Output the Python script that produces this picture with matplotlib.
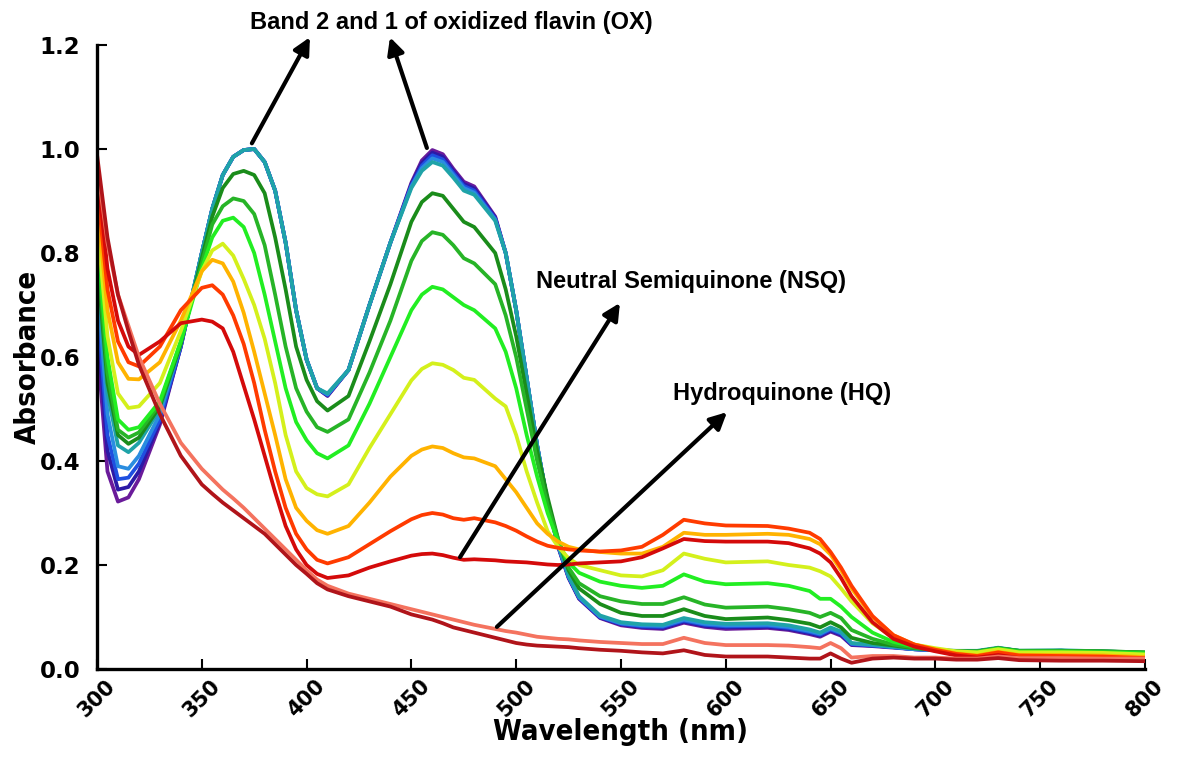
import matplotlib
matplotlib.use('Agg')
import matplotlib.pyplot as plt

# Wavelength grid (nm)
wl = [300, 305, 310, 315, 320, 330, 340, 350, 355, 360, 365, 370, 375, 380, 385,
      390, 395, 400, 405, 410, 420, 430, 440, 450, 455, 460, 465, 470, 475, 480, 490, 495,
      500, 505, 510, 515, 520, 525, 530, 540, 550, 560, 570, 580, 590, 600, 620,
      630, 640, 645, 650, 655, 660, 670, 680, 690, 700, 710, 720, 730, 740, 760,
      780, 800]

# Oxidized flavin group
a_purple = [0.63, 0.38, 0.322, 0.33, 0.365, 0.47, 0.62, 0.80, 0.885, 0.95, 0.985, 0.998, 1.0, 0.975, 0.92,
            0.82, 0.69, 0.595, 0.54, 0.525, 0.575, 0.70, 0.82, 0.935, 0.978, 0.998, 0.99, 0.962, 0.937, 0.928, 0.87, 0.80,
            0.69, 0.56, 0.43, 0.32, 0.235, 0.175, 0.135, 0.098, 0.084, 0.079, 0.077, 0.089, 0.081, 0.077, 0.079,
            0.075, 0.067, 0.062, 0.072, 0.064, 0.046, 0.044, 0.041, 0.038, 0.036, 0.034, 0.034, 0.038, 0.034, 0.035,
            0.033, 0.030]
a_indigo = [0.67, 0.42, 0.345, 0.35, 0.38, 0.475, 0.62, 0.80, 0.885, 0.95, 0.985, 0.998, 1.0, 0.975, 0.92,
            0.82, 0.69, 0.595, 0.54, 0.526, 0.575, 0.70, 0.82, 0.932, 0.973, 0.993, 0.985, 0.958, 0.933, 0.924, 0.868, 0.80,
            0.69, 0.56, 0.43, 0.32, 0.236, 0.176, 0.136, 0.099, 0.086, 0.081, 0.079, 0.091, 0.083, 0.080, 0.081,
            0.077, 0.069, 0.064, 0.074, 0.066, 0.047, 0.045, 0.042, 0.038, 0.036, 0.034, 0.034, 0.039, 0.034, 0.035,
            0.033, 0.030]
a_blue = [0.71, 0.45, 0.365, 0.368, 0.395, 0.48, 0.62, 0.80, 0.885, 0.95, 0.985, 0.998, 1.0, 0.975, 0.92,
          0.82, 0.69, 0.595, 0.54, 0.527, 0.575, 0.70, 0.82, 0.930, 0.968, 0.988, 0.980, 0.954, 0.929, 0.920, 0.866, 0.80,
          0.69, 0.56, 0.43, 0.32, 0.237, 0.177, 0.137, 0.100, 0.087, 0.082, 0.081, 0.093, 0.085, 0.082, 0.083,
          0.079, 0.071, 0.066, 0.076, 0.068, 0.048, 0.045, 0.042, 0.038, 0.036, 0.034, 0.034, 0.039, 0.034, 0.035,
          0.033, 0.030]
a_skyblue = [0.75, 0.49, 0.39, 0.385, 0.41, 0.49, 0.625, 0.80, 0.885, 0.95, 0.985, 0.998, 1.0, 0.975, 0.92,
             0.82, 0.69, 0.595, 0.54, 0.528, 0.575, 0.70, 0.82, 0.928, 0.963, 0.982, 0.975, 0.950, 0.925, 0.916, 0.864, 0.80,
             0.69, 0.56, 0.43, 0.32, 0.238, 0.178, 0.138, 0.101, 0.088, 0.084, 0.083, 0.095, 0.087, 0.084, 0.085,
             0.081, 0.073, 0.068, 0.078, 0.070, 0.049, 0.046, 0.042, 0.038, 0.036, 0.034, 0.034, 0.040, 0.035, 0.035,
             0.034, 0.031]
a_teal = [0.78, 0.53, 0.43, 0.417, 0.435, 0.50, 0.625, 0.80, 0.885, 0.95, 0.985, 0.998, 1.0, 0.975, 0.92,
          0.82, 0.69, 0.595, 0.54, 0.530, 0.575, 0.70, 0.82, 0.925, 0.958, 0.975, 0.968, 0.945, 0.920, 0.912, 0.862, 0.80,
          0.69, 0.56, 0.43, 0.32, 0.240, 0.180, 0.140, 0.103, 0.090, 0.086, 0.085, 0.098, 0.090, 0.087, 0.088,
          0.084, 0.076, 0.070, 0.080, 0.072, 0.050, 0.047, 0.043, 0.039, 0.037, 0.035, 0.035, 0.041, 0.035, 0.036,
          0.034, 0.031]

# Intermediate spectra (OX -> NSQ)
a_dkgreen = [0.79, 0.55, 0.45, 0.433, 0.445, 0.505, 0.625, 0.79, 0.87, 0.925, 0.952, 0.958, 0.95, 0.915, 0.83,
             0.73, 0.62, 0.556, 0.515, 0.497, 0.525, 0.63, 0.74, 0.86, 0.898, 0.915, 0.91, 0.885, 0.86, 0.85, 0.80, 0.73,
             0.64, 0.53, 0.42, 0.33, 0.25, 0.19, 0.155, 0.125, 0.108, 0.102, 0.102, 0.115, 0.102, 0.096, 0.099,
             0.094, 0.087, 0.080, 0.090, 0.080, 0.060, 0.050, 0.045, 0.040, 0.037, 0.034, 0.034, 0.040, 0.035, 0.035,
             0.034, 0.032]
a_green = [0.81, 0.57, 0.46, 0.445, 0.455, 0.51, 0.63, 0.78, 0.855, 0.89, 0.905, 0.90, 0.875, 0.815, 0.72,
           0.62, 0.54, 0.495, 0.465, 0.456, 0.48, 0.57, 0.67, 0.785, 0.823, 0.84, 0.835, 0.815, 0.79, 0.78, 0.74, 0.68,
           0.60, 0.50, 0.40, 0.315, 0.25, 0.195, 0.165, 0.14, 0.13, 0.125, 0.125, 0.138, 0.124, 0.118, 0.12,
           0.115, 0.108, 0.100, 0.108, 0.098, 0.075, 0.058, 0.047, 0.041, 0.037, 0.034, 0.034, 0.040, 0.035, 0.035,
           0.034, 0.032]
a_ltgreen = [0.83, 0.60, 0.48, 0.46, 0.465, 0.515, 0.63, 0.77, 0.83, 0.862, 0.868, 0.85, 0.80, 0.72, 0.63,
             0.54, 0.475, 0.44, 0.415, 0.405, 0.43, 0.51, 0.60, 0.69, 0.72, 0.735, 0.73, 0.715, 0.70, 0.69, 0.655, 0.61,
             0.54, 0.45, 0.37, 0.30, 0.245, 0.205, 0.185, 0.168, 0.16, 0.156, 0.16, 0.182, 0.168, 0.163, 0.165,
             0.16, 0.15, 0.135, 0.135, 0.12, 0.10, 0.07, 0.052, 0.043, 0.037, 0.033, 0.032, 0.039, 0.033, 0.033,
             0.032, 0.030]
a_yellow = [0.86, 0.64, 0.53, 0.502, 0.505, 0.55, 0.65, 0.765, 0.805, 0.818, 0.795, 0.75, 0.70, 0.635, 0.55,
            0.45, 0.38, 0.348, 0.336, 0.332, 0.355, 0.425, 0.49, 0.555, 0.577, 0.588, 0.585, 0.575, 0.56, 0.556, 0.52, 0.505,
            0.45, 0.38, 0.32, 0.265, 0.235, 0.213, 0.20, 0.19, 0.18, 0.178, 0.19, 0.222, 0.212, 0.205, 0.207,
            0.20, 0.195, 0.188, 0.178, 0.155, 0.13, 0.088, 0.06, 0.047, 0.04, 0.034, 0.032, 0.038, 0.032, 0.032,
            0.031, 0.028]
a_orange = [0.90, 0.69, 0.59, 0.558, 0.557, 0.59, 0.67, 0.765, 0.787, 0.78, 0.745, 0.685, 0.61, 0.53, 0.45,
            0.365, 0.31, 0.285, 0.267, 0.26, 0.275, 0.32, 0.37, 0.41, 0.422, 0.428, 0.425, 0.415, 0.407, 0.405, 0.39, 0.365,
            0.34, 0.31, 0.28, 0.26, 0.245, 0.235, 0.23, 0.225, 0.222, 0.222, 0.235, 0.262, 0.258, 0.258, 0.26,
            0.258, 0.25, 0.24, 0.22, 0.19, 0.155, 0.10, 0.065, 0.047, 0.038, 0.030, 0.026, 0.033, 0.027, 0.027,
            0.026, 0.023]
a_redorange = [0.93, 0.73, 0.63, 0.59, 0.582, 0.62, 0.69, 0.733, 0.738, 0.72, 0.68, 0.625, 0.55, 0.46, 0.38,
               0.31, 0.26, 0.23, 0.21, 0.203, 0.215, 0.24, 0.265, 0.288, 0.296, 0.30, 0.297, 0.29, 0.287, 0.29, 0.282, 0.275,
               0.266, 0.255, 0.245, 0.237, 0.233, 0.23, 0.228, 0.226, 0.228, 0.235, 0.258, 0.287, 0.28, 0.276, 0.275,
               0.27, 0.262, 0.25, 0.225, 0.195, 0.16, 0.102, 0.065, 0.047, 0.037, 0.029, 0.025, 0.032, 0.026, 0.025,
               0.024, 0.021]
a_red = [0.96, 0.77, 0.67, 0.62, 0.604, 0.63, 0.665, 0.672, 0.668, 0.655, 0.61, 0.545, 0.48, 0.41, 0.34,
         0.275, 0.23, 0.20, 0.183, 0.175, 0.18, 0.195, 0.207, 0.218, 0.221, 0.222, 0.219, 0.214, 0.21, 0.211, 0.209, 0.207,
         0.206, 0.205, 0.203, 0.201, 0.20, 0.201, 0.203, 0.205, 0.207, 0.215, 0.232, 0.25, 0.246, 0.245, 0.245,
         0.242, 0.232, 0.222, 0.205, 0.175, 0.14, 0.09, 0.058, 0.043, 0.034, 0.026, 0.022, 0.027, 0.021, 0.020,
         0.019, 0.017]

# Hydroquinone spectra
a_salmon = [0.97, 0.82, 0.72, 0.66, 0.60, 0.51, 0.435, 0.385, 0.365, 0.345, 0.328, 0.31, 0.29, 0.27, 0.25,
            0.23, 0.21, 0.19, 0.172, 0.16, 0.145, 0.135, 0.125, 0.115, 0.11, 0.105, 0.10, 0.095, 0.09, 0.085, 0.077, 0.073,
            0.07, 0.066, 0.062, 0.06, 0.058, 0.057, 0.055, 0.052, 0.05, 0.048, 0.048, 0.06, 0.05, 0.046, 0.046,
            0.045, 0.042, 0.04, 0.05, 0.04, 0.022, 0.025, 0.025, 0.022, 0.022, 0.02, 0.02, 0.024, 0.021, 0.021,
            0.02, 0.02]
a_dkred = [0.99, 0.83, 0.72, 0.65, 0.585, 0.49, 0.41, 0.355, 0.337, 0.32, 0.305, 0.29, 0.275, 0.26, 0.24,
           0.22, 0.2, 0.183, 0.165, 0.153, 0.14, 0.13, 0.12, 0.105, 0.10, 0.095, 0.088, 0.08, 0.075, 0.07, 0.06, 0.055,
           0.05, 0.047, 0.045, 0.044, 0.043, 0.042, 0.04, 0.037, 0.035, 0.032, 0.03, 0.036, 0.027, 0.024, 0.024,
           0.022, 0.02, 0.02, 0.03, 0.02, 0.012, 0.02, 0.022, 0.02, 0.02, 0.018, 0.018, 0.021, 0.017, 0.016,
           0.016, 0.015]

spectra = [a_purple, a_indigo, a_blue, a_skyblue, a_teal, a_dkgreen, a_green, a_ltgreen,
           a_yellow, a_orange, a_redorange, a_red, a_salmon, a_dkred]
colores = ['#6a1b9a', '#2c1aa6', '#1f4fe0', '#2a8de0', '#1fa3a8', '#1a8c1a', '#27b427', '#22ee22',
           '#d4f01c', '#ffb300', '#ff3b00', '#d40a0a', '#f4735f', '#b0141a']

fig = plt.figure(figsize=(11.8, 7.63), dpi=100)
ax = fig.add_axes([0.0822, 0.1232, 0.8881, 0.8178])

for a, c in zip(spectra, colores):
    ax.plot(wl, a, color=c, lw=2.7, solid_joinstyle='round', solid_capstyle='round')

ax.set_xlim(300, 800)
ax.set_ylim(0, 1.2)
ax.set_xticks(range(300, 801, 50))
ax.set_yticks([0.0, 0.2, 0.4, 0.6, 0.8, 1.0, 1.2])
ax.set_yticklabels(['0.0', '0.2', '0.4', '0.6', '0.8', '1.0', '1.2'])
for s in ['top', 'right']:
    ax.spines[s].set_visible(False)
for s in ['left', 'bottom']:
    ax.spines[s].set_linewidth(2.4)
ax.tick_params(direction='in', length=7, width=1.5)
ax.tick_params(axis='x', labelsize=15, pad=5)
ax.tick_params(axis='y', labelsize=16.5, pad=12)
for lab in ax.get_xticklabels():
    lab.set_rotation(45)
    lab.set_fontweight('bold')
for lab in ax.get_yticklabels():
    lab.set_fontweight('bold')

ax.set_xlabel('Wavelength (nm)', fontsize=21, fontweight='bold', fontstretch='condensed')
ax.set_ylabel('Absorbance', fontsize=21, fontweight='bold', fontstretch='condensed')
ax.xaxis.set_label_coords(0.5, -0.078)
ax.yaxis.set_label_coords(-0.053, 0.5)

flecha = dict(arrowstyle='-|>', lw=3, color='black', mutation_scale=25, shrinkA=0, shrinkB=0)
ax.annotate('', xy=(401.6, 1.215), xytext=(373.9, 1.011), arrowprops=flecha, annotation_clip=False)
ax.annotate('', xy=(439.8, 1.215), xytext=(457.4, 1.002), arrowprops=flecha, annotation_clip=False)
ax.annotate('', xy=(549.5, 0.704), xytext=(473.2, 0.215), arrowprops=flecha)
ax.annotate('', xy=(600.6, 0.494), xytext=(490.8, 0.081), arrowprops=flecha)

txt = dict(fontsize=17, fontweight='bold', family='Liberation Sans', ha='center', va='center')
ax.text(469.2, 1.244, 'Band 2 and 1 of oxidized flavin (OX)', clip_on=False, **txt)
ax.text(583.4, 0.746, 'Neutral Semiquinone (NSQ)', **txt)
ax.text(626.8, 0.529, 'Hydroquinone (HQ)', **txt)

fig.savefig('out.png', dpi=100)
